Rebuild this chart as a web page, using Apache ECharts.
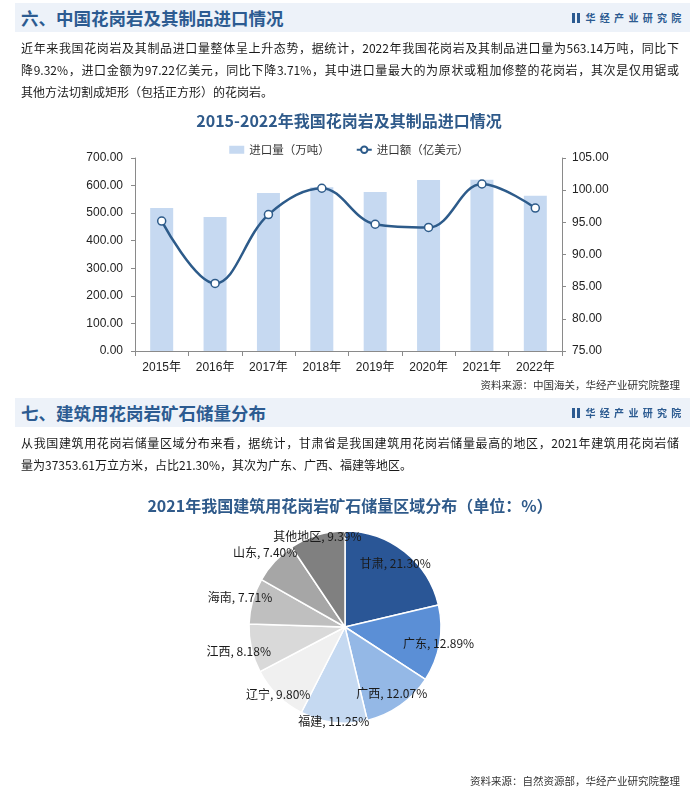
<!DOCTYPE html>
<html>
<head>
<meta charset="utf-8">
<script src="https://cdn.jsdelivr.net/npm/echarts@6.0.0/dist/echarts.min.js"></script>
<style>
html,body{margin:0;padding:0;background:#fff;}
#page{position:relative;width:698px;height:790px;overflow:hidden;font-family:"Noto Sans CJK SC","Noto Sans",sans-serif;}
#chart{position:absolute;left:0;top:0;width:698px;height:790px;z-index:0;}
.band{position:absolute;left:15px;width:675px;height:29px;background:#edf2f9;z-index:1;}
.htitle{position:absolute;left:21px;font-size:17.5px;font-weight:bold;color:#2c5b91;line-height:29px;height:29px;white-space:nowrap;z-index:2;}
.logo{position:absolute;left:572px;height:29px;line-height:29px;font-size:10px;font-weight:bold;color:#2c5b91;letter-spacing:4.3px;white-space:nowrap;z-index:2;}
.logo i{display:inline-block;width:3px;height:10px;background:#2c5b91;margin-right:1.5px;vertical-align:-1px;}
.logo i.b{margin-right:6px;}
.p{position:absolute;left:21px;width:658px;font-size:12px;color:#1a1a1a;text-align:justify;text-align-last:justify;line-height:20px;height:20px;z-index:2;}
.p.last{text-align-last:left;}
.src{position:absolute;right:18px;font-size:10.5px;color:#333;white-space:nowrap;z-index:2;}
</style>
</head>
<body>
<div id="page">
  <div id="chart"></div>

  <div class="band" style="top:3px;"></div>
  <div class="htitle" style="top:3px;">六、中国花岗岩及其制品进口情况</div>
  <div class="logo" style="top:3px;"><i></i><i class="b"></i>华经产业研究院</div>

  <div class="p" style="top:38px;">近年来我国花岗岩及其制品进口量整体呈上升态势，据统计，2022年我国花岗岩及其制品进口量为563.14万吨，同比下</div>
  <div class="p" style="top:60px;">降9.32%，进口金额为97.22亿美元，同比下降3.71%，其中进口量最大的为原状或粗加修整的花岗岩，其次是仅用锯或</div>
  <div class="p last" style="top:82px;">其他方法切割成矩形（包括正方形）的花岗岩。</div>

  <div class="src" style="top:377px;">资料来源：中国海关，华经产业研究院整理</div>

  <div class="band" style="top:398px;"></div>
  <div class="htitle" style="top:398px;">七、建筑用花岗岩矿石储量分布</div>
  <div class="logo" style="top:398px;"><i></i><i class="b"></i>华经产业研究院</div>

  <div class="p" style="top:433px;">从我国建筑用花岗岩储量区域分布来看，据统计，甘肃省是我国建筑用花岗岩储量最高的地区，2021年建筑用花岗岩储</div>
  <div class="p last" style="top:455px;">量为37353.61万立方米，占比21.30%，其次为广东、广西、福建等地区。</div>

  <div class="src" style="top:773px;">资料来源：自然资源部，华经产业研究院整理</div>
</div>
<script>
// ---------- data ----------
const years = ['2015年', '2016年', '2017年', '2018年', '2019年', '2020年', '2021年', '2022年'];
const importVolume = [519, 486, 573, 594, 577, 620, 621, 563.14];      // 万吨
const importValue = [95.2, 85.5, 96.2, 100.3, 94.7, 94.2, 100.96, 97.22]; // 亿美元
const volumeName = '进口量（万吨）';
const valueName = '进口额（亿美元）';

const regions = ['甘肃', '广东', '广西', '福建', '辽宁', '江西', '海南', '山东', '其他地区'];
const shares = [21.30, 12.89, 12.07, 11.25, 9.80, 8.18, 7.71, 7.40, 9.39];

const title1 = '2015-2022年我国花岗岩及其制品进口情况';
const title2 = '2021年我国建筑用花岗岩矿石储量区域分布（单位：%）';

// ---------- styling ----------
const sliceColors = ['#2a5696', '#5b8fd6', '#94b8e6', '#c5d9f1', '#f0f0f0', '#d9d9d9', '#bfbfbf', '#a6a6a6', '#808080'];
const labelRing = [0, 1, 0, 1, 1, 2, 2, 2, 1];
const ringRadius = [156, 184, 212];
const axisColor = '#8a8a8a';
const latin = '"Liberation Sans", Arial, "Noto Sans CJK SC", sans-serif';
const cjk = '"Noto Sans CJK SC", sans-serif';
const pieCenter = [345, 627];

const chart = echarts.init(document.getElementById('chart'), null, {renderer: 'canvas'});

const labelSeries = ringRadius.map((r, ri) => ({
  type: 'pie',
  center: pieCenter,
  radius: [0, r],
  startAngle: 90,
  clockwise: true,
  silent: true,
  z: 5,
  emphasis: {disabled: true},
  labelLine: {show: false},
  itemStyle: {color: 'rgba(0,0,0,0)', borderWidth: 0},
  label: {
    show: true,
    position: 'inside',
    fontFamily: cjk,
    fontSize: 12,
    color: '#1a1a1a',
    formatter: p => p.name + ', ' + p.value.toFixed(2) + '%'
  },
  data: regions.map((n, i) => ({
    name: n,
    value: shares[i],
    label: {show: labelRing[i] === ri}
  }))
}));

const option = {
  animation: false,
  title: [
    {
      text: title1, left: 'center', top: 108,
      textStyle: {fontFamily: cjk, fontSize: 16, fontWeight: 'bold', color: '#2f5a8a'}
    },
    {
      text: title2, left: 345, textAlign: 'center', top: 493,
      textStyle: {fontFamily: cjk, fontSize: 16, fontWeight: 'bold', color: '#2f5a8a'}
    }
  ],
  legend: {
    top: 139, left: 'center', itemGap: 26, itemWidth: 15, itemHeight: 8,
    textStyle: {fontFamily: cjk, fontSize: 11.5, color: '#333'},
    data: [{name: volumeName, icon: 'rect'}, {name: valueName}]
  },
  grid: {left: 135, right: 136, top: 158, bottom: 439, containLabel: false},
  xAxis: {
    type: 'category', data: years, boundaryGap: true,
    axisLine: {lineStyle: {color: axisColor, width: 1}},
    axisTick: {show: true, length: 5, lineStyle: {color: axisColor}},
    axisLabel: {fontFamily: latin, fontSize: 12, color: '#222', margin: 11}
  },
  yAxis: [
    {
      type: 'value', min: 0, max: 700, interval: 100, position: 'left',
      axisLine: {show: true, lineStyle: {color: axisColor}},
      axisTick: {show: true, length: 4, lineStyle: {color: axisColor}},
      splitLine: {show: false},
      axisLabel: {fontFamily: latin, fontSize: 12, color: '#222', margin: 12, formatter: v => v.toFixed(2)}
    },
    {
      type: 'value', min: 75, max: 105, interval: 5, position: 'right',
      axisLine: {show: true, lineStyle: {color: axisColor}},
      axisTick: {show: true, length: 4, lineStyle: {color: axisColor}},
      splitLine: {show: false},
      axisLabel: {fontFamily: latin, fontSize: 12, color: '#222', margin: 10, formatter: v => v.toFixed(2)}
    }
  ],
  series: [
    {
      name: volumeName, type: 'bar', data: importVolume, barWidth: 23,
      itemStyle: {color: '#c6d9f1'}, z: 2
    },
    {
      name: valueName, type: 'line', yAxisIndex: 1, data: importValue,
      smooth: 0.38, symbol: 'circle', symbolSize: 8, z: 3,
      lineStyle: {color: '#2d5b8a', width: 2.5},
      itemStyle: {color: '#ffffff', borderColor: '#2d5b8a', borderWidth: 1.5}
    },
    {
      type: 'pie', center: pieCenter, radius: [0, 96], startAngle: 90, clockwise: true,
      silent: true, emphasis: {disabled: true},
      label: {show: false}, labelLine: {show: false},
      itemStyle: {borderColor: '#ffffff', borderWidth: 1.5},
      data: regions.map((n, i) => ({name: n, value: shares[i], itemStyle: {color: sliceColors[i]}}))
    },
    ...labelSeries
  ]
};
chart.setOption(option);
</script>
</body>
</html>
